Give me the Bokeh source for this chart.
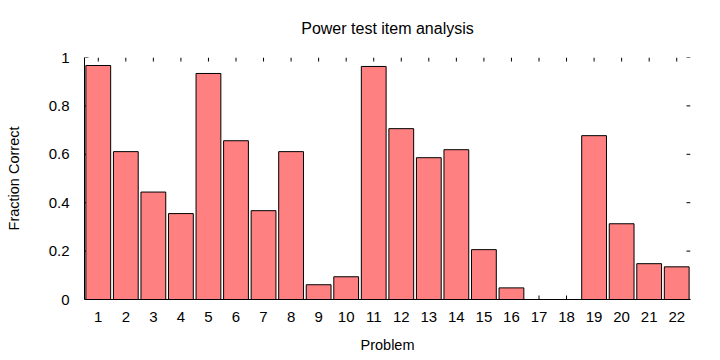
import math
from bokeh.plotting import figure
from bokeh.models import FixedTicker, NumeralTickFormatter, Range1d
from bokeh.embed import file_html
from bokeh.resources import INLINE

# ---- data ----
problems = [1, 2, 3, 4, 5, 6, 7, 8, 9, 10, 11, 12, 13, 14, 15, 16, 17, 18, 19, 20, 21, 22]
fraction_correct = [0.967, 0.611, 0.444, 0.355, 0.934, 0.656, 0.367, 0.611, 0.061, 0.094,
                    0.963, 0.706, 0.586, 0.619, 0.206, 0.048, 0.0, 0.0, 0.677, 0.313,
                    0.148, 0.135]
y_ticks = [0, 0.2, 0.4, 0.6, 0.8, 1.0]

title_text = "Power test item analysis"
x_label = "Problem"
y_label = "Fraction Correct"

FONT = "Liberation Sans"
BAR_FILL = "#ff8080"
X_MIN, X_MAX = 0.5, 22.5
Y_MIN, Y_MAX = 0.0, 1.0
TICK_LEN = 4

p = figure(width=720, height=360, output_backend="svg", toolbar_location=None,
           x_range=Range1d(X_MIN, X_MAX), y_range=Range1d(Y_MIN, Y_MAX),
           min_border_left=84, min_border_right=30, min_border_top=57, min_border_bottom=61,
           title=title_text, x_axis_label=x_label, y_axis_label=y_label)

p.outline_line_color = None
p.grid.visible = False
p.background_fill_color = "white"
p.border_fill_color = "white"

p.title.align = "center"
p.title.vertical_align = "top"
p.title.text_font = FONT
p.title.text_font_size = "16px"
p.title.text_font_style = "normal"
p.title.text_color = "black"
p.title.standoff = 38

def style_axis(ax):
    ax.axis_line_color = "black"
    ax.axis_line_width = 1
    ax.major_tick_line_color = None
    ax.major_tick_in = 0
    ax.major_tick_out = 0
    ax.minor_tick_line_color = None
    ax.major_label_text_font = FONT
    ax.major_label_text_font_size = "15px"
    ax.major_label_text_color = "black"
    ax.axis_label_text_font = FONT
    ax.axis_label_text_font_size = "14.5px"
    ax.axis_label_text_font_style = "normal"
    ax.axis_label_text_color = "black"

xa = p.xaxis[0]
style_axis(xa)
xa.ticker = FixedTicker(ticks=problems)
xa.major_label_standoff = 12
xa.axis_label_standoff = 12

ya = p.yaxis[0]
style_axis(ya)
ya.ticker = FixedTicker(ticks=y_ticks)
ya.formatter = NumeralTickFormatter(format="0.[0]")
ya.major_label_standoff = 15
ya.axis_label_standoff = 24

# inward tick marks on all four sides (drawn beneath the bars, gnuplot style)
tick_kw = dict(length=TICK_LEN, length_units="screen", line_color="black", line_width=1)
p.ray(x=problems, y=[Y_MIN] * len(problems), angle=math.pi / 2, **tick_kw)
p.ray(x=problems, y=[Y_MAX] * len(problems), angle=-math.pi / 2, **tick_kw)
p.ray(x=[X_MIN] * len(y_ticks), y=y_ticks, angle=0, **tick_kw)
p.ray(x=[X_MAX] * len(y_ticks), y=y_ticks, angle=math.pi, **tick_kw)

p.vbar(x=problems, top=fraction_correct, width=0.9, bottom=0,
       fill_color=BAR_FILL, line_color="black", line_width=1)

open("out.html", "w").write(file_html(p, INLINE))
